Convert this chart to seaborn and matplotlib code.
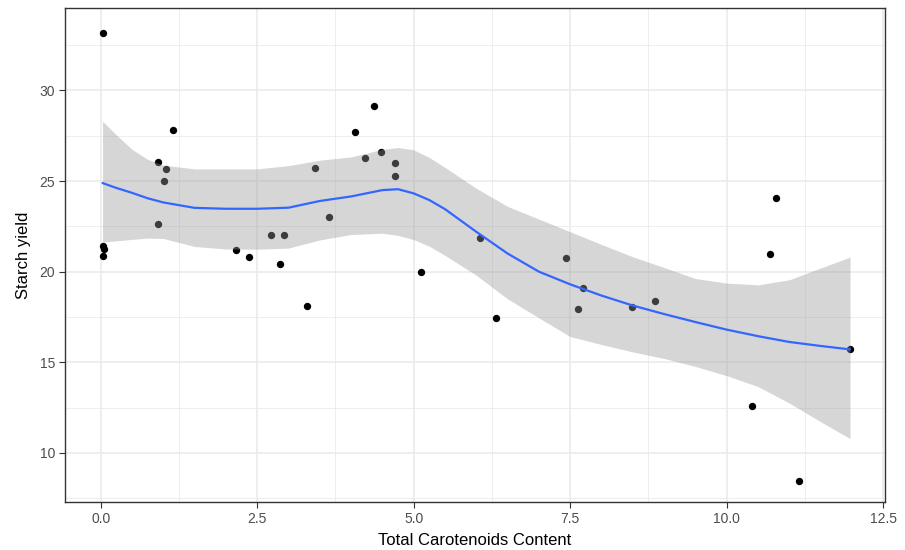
import numpy as np
import pandas as pd
import matplotlib
matplotlib.use('Agg')
import matplotlib.pyplot as plt
import seaborn as sns

#---------------------------------------------------
# observed points
carot=[0.03, 0.03, 0.05, 0.03, 0.91, 0.92, 1.01, 1.05, 1.15, 2.16, 2.37, 2.72, 2.86, 2.93,
	3.30, 3.42, 3.64, 4.06, 4.22, 4.36, 4.48, 4.70, 4.70, 5.12, 6.06, 6.31, 7.43, 7.63,
	7.71, 8.49, 8.85, 10.41, 10.69, 10.79, 11.16, 11.97]
starch=[33.17, 21.44, 21.24, 20.89, 22.63, 26.06, 25.00, 25.65, 27.79, 21.17, 20.82, 22.00, 20.42, 22.00,
	18.13, 25.72, 23.03, 27.73, 26.26, 29.12, 26.63, 26.00, 25.30, 20.00, 21.85, 17.44, 20.75, 17.92,
	19.10, 18.07, 18.40, 12.56, 20.95, 24.04, 8.47, 15.71]

# smoothed curve + band
fit_x=[0.03, 0.25, 0.5, 0.75, 1.0, 1.5, 2.0, 2.5, 3.0, 3.5, 4.0, 4.5, 4.75, 5.0, 5.25, 5.5, 6.0, 6.5, 7.0, 7.5,
	8.0, 8.5, 9.0, 9.5, 10.0, 10.5, 11.0, 11.5, 11.97]
fit_y=[24.89, 24.62, 24.35, 24.05, 23.82, 23.52, 23.47, 23.47, 23.53, 23.90, 24.15, 24.50, 24.55, 24.32, 23.95, 23.45, 22.20, 21.00, 20.00, 19.30,
	18.68, 18.13, 17.66, 17.22, 16.80, 16.44, 16.12, 15.90, 15.71]
fit_hi=[28.30, 27.55, 26.75, 26.20, 25.88, 25.67, 25.67, 25.67, 25.85, 26.15, 26.33, 26.75, 26.85, 26.72, 26.30, 25.75, 24.60, 23.60, 22.90, 22.20,
	21.50, 20.82, 20.23, 19.62, 19.37, 19.27, 19.55, 20.20, 20.80]
fit_lo=[21.63, 21.70, 21.78, 21.85, 21.83, 21.39, 21.25, 21.24, 21.30, 21.75, 22.05, 22.12, 22.00, 21.77, 21.40, 20.90, 19.80, 18.50, 17.45, 16.42,
	15.98, 15.57, 15.21, 14.77, 14.26, 13.66, 12.75, 11.72, 10.79]

x_ticks=[0.0, 2.5, 5.0, 7.5, 10.0, 12.5]
y_ticks=[10, 15, 20, 25, 30]

#---------------------------------------------------
sns.set_style('white')
plt.rcParams['font.family']=['Liberation Sans', 'DejaVu Sans']

df=pd.DataFrame({'carot':carot, 'starch':starch})
df_fit=pd.DataFrame({'x':fit_x, 'y':fit_y, 'lo':fit_lo, 'hi':fit_hi})

fig=plt.figure(figsize=(9.05, 5.5), dpi=100)
ax=fig.add_axes([0.0718, 0.0873, 0.978-0.0718, 0.9855-0.0873])

#grid (theme_bw look)
for v in [1.25, 3.75, 6.25, 8.75, 11.25]:
	ax.axvline(v, color='#ebebeb', lw=0.6, zorder=0)
for v in x_ticks:
	ax.axvline(v, color='#ebebeb', lw=1.2, zorder=0)
for v in [7.5, 12.5, 17.5, 22.5, 27.5, 32.5]:
	ax.axhline(v, color='#ebebeb', lw=0.6, zorder=0)
for v in y_ticks:
	ax.axhline(v, color='#ebebeb', lw=1.2, zorder=0)

sns.scatterplot(data=df, x='carot', y='starch', color='black', s=28, linewidth=0, ax=ax, zorder=2)
ax.fill_between(df_fit['x'], df_fit['lo'], df_fit['hi'], color='#999999', alpha=0.4, linewidth=0, zorder=3)
sns.lineplot(data=df_fit, x='x', y='y', color='#3366FF', lw=1.6, ax=ax, zorder=4)

ax.set_xlim(-0.57, 12.53)
ax.set_ylim(7.29, 34.55)
ax.set_xticks(x_ticks)
ax.set_xticklabels([f'{v:.1f}' for v in x_ticks])
ax.set_yticks(y_ticks)
ax.set_yticklabels([str(v) for v in y_ticks])
ax.tick_params(axis='both', length=4, width=0.8, color='#333333', labelcolor='#4d4d4d', labelsize=10, pad=3,
	bottom=True, left=True)
for sp in ax.spines.values():
	sp.set_color('#333333')
	sp.set_linewidth(1.0)

ax.set_xlabel('Total Carotenoids Content', fontsize=12, color='black', labelpad=5)
ax.set_ylabel('Starch yield', fontsize=12, color='black', labelpad=6)

fig.savefig('out.png', dpi=100)
plt.close()
